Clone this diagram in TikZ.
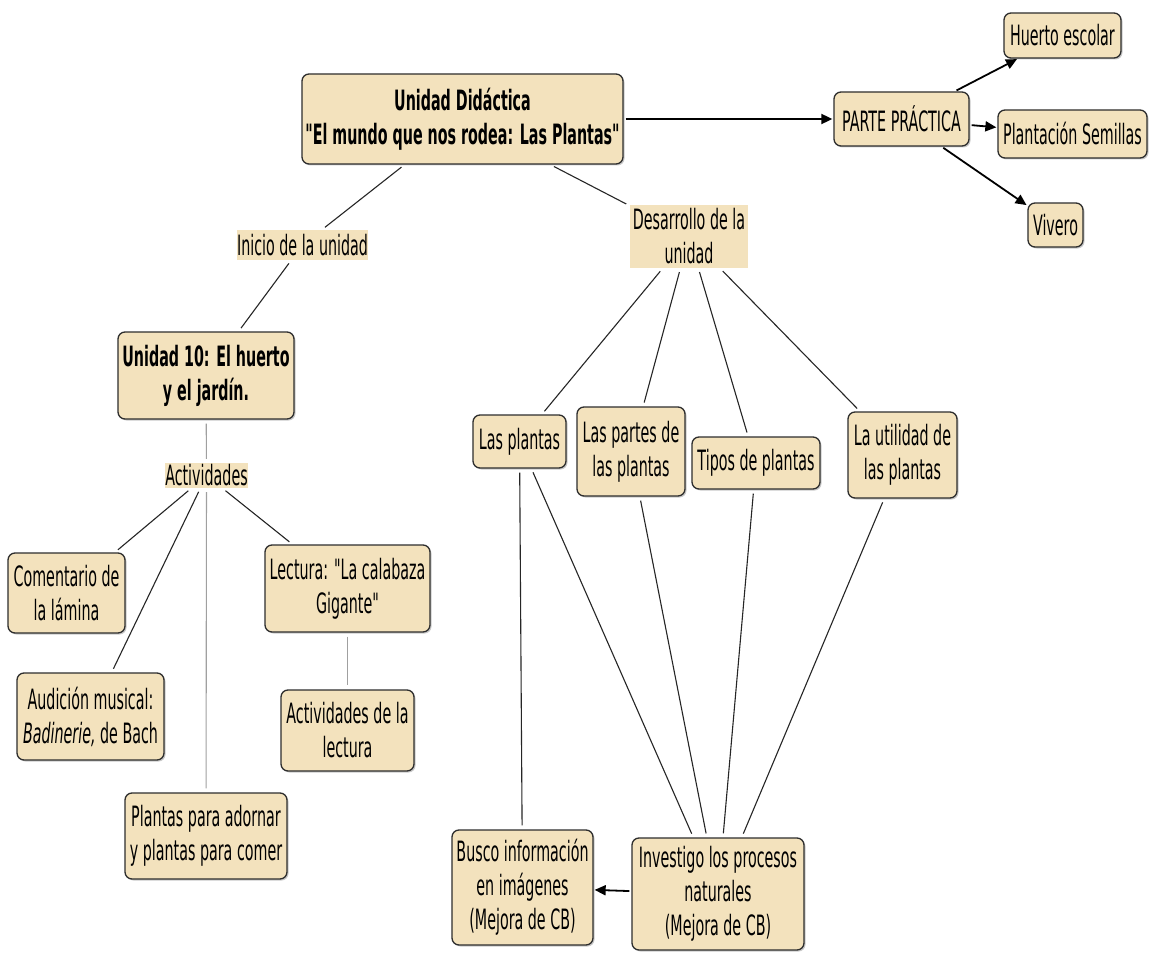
\documentclass[tikz,border=0pt]{standalone}
\usepackage{fontspec}
\setmainfont{DejaVu Sans}[FakeStretch=0.51, Ligatures=TeXOff]
\usetikzlibrary{arrows.meta,shadows}
\definecolor{boxfill}{HTML}{F3E2BD}
\definecolor{boxborder}{HTML}{2E2E2E}
\definecolor{greyline}{HTML}{A0A0A0}
\tikzset{
  every node/.style={font=\fontsize{28}{34}\selectfont},
  box/.style={draw=boxborder, line width=1.3pt, fill=boxfill, rounded corners=7pt,
    align=center, inner sep=0pt,
    drop shadow={shadow xshift=1.5pt, shadow yshift=-1.5pt, opacity=0.35, fill=black!60}},
  lab/.style={fill=boxfill, align=center, inner sep=0pt},
  conn/.style={line width=1.1pt, draw=black!85, shorten >=4pt, shorten <=4pt},
  gconn/.style={line width=1.1pt, draw=greyline, shorten >=4pt, shorten <=4pt},
  arr/.style={line width=1.8pt, draw=black, -{Triangle[length=11pt,width=10pt]}, shorten <=2pt, shorten >=1pt}
}
\begin{document}
\begin{tikzpicture}[x=1pt,y=-1pt]
\useasboundingbox[fill=white] (0,0) rectangle (1149,955);
% main nodes
\node[box, minimum width=321pt, minimum height=90pt] (main) at (462.5,119)
  {\bfseries Unidad Didáctica\\ \bfseries "El mundo que nos rodea: Las Plantas"};
\node[box, minimum width=135pt, minimum height=54pt] (parte) at (901.5,119) {PARTE PRÁCTICA};
\node[box, minimum width=117pt, minimum height=45pt] (huerto) at (1062.5,35.5) {Huerto escolar};
\node[box, minimum width=149pt, minimum height=48pt] (semillas) at (1072.5,134) {Plantación Semillas};
\node[box, minimum width=55pt, minimum height=44pt] (vivero) at (1055.5,225) {Vivero};
\node[lab, minimum width=129pt, minimum height=30pt] (inicio) at (302.5,245) {Inicio de la unidad};
\node[lab, minimum width=118pt, minimum height=63pt] (desarrollo) at (689,236.5) {Desarrollo de la\\unidad};
\node[box, minimum width=176pt, minimum height=87pt] (u10) at (206,375.5)
  {\bfseries Unidad 10: El huerto\\ \bfseries y el jardín.};
\node[lab, minimum width=81pt, minimum height=25pt] (activ) at (206.5,475.5) {Actividades};
\node[box, minimum width=117pt, minimum height=80pt] (coment) at (66.5,593) {Comentario de\\la lámina};
\node[box, minimum width=165pt, minimum height=87pt] (lectura) at (347.5,588.5) {Lectura: "La calabaza\\Gigante"};
\node[box, minimum width=147pt, minimum height=87pt] (audicion) at (90.5,716.5) {Audición musical:\\\textit{Badinerie,} de Bach};
\node[box, minimum width=133pt, minimum height=81pt] (actlect) at (347.5,730.5) {Actividades de la\\lectura};
\node[box, minimum width=162pt, minimum height=86pt] (adornar) at (206,836) {Plantas para adornar\\y plantas para comer};
\node[box, minimum width=93pt, minimum height=53pt] (lasplantas) at (519.5,441.5) {Las plantas};
\node[box, minimum width=108pt, minimum height=89pt] (partes) at (631,451.5) {Las partes de\\las plantas};
\node[box, minimum width=128pt, minimum height=52pt] (tipos) at (756,463) {Tipos de plantas};
\node[box, minimum width=109pt, minimum height=86pt] (utilidad) at (902.5,455) {La utilidad de\\las plantas};
\node[box, minimum width=141pt, minimum height=115pt] (busco) at (522.5,887.5) {Busco información\\en imágenes\\(Mejora de CB)};
\node[box, minimum width=172pt, minimum height=112pt] (investigo) at (718,894) {Investigo los procesos\\naturales\\(Mejora de CB)};
% connectors
\draw[conn] (main) -- (inicio);
\draw[conn] (inicio) -- (u10);
\draw[conn] (main) -- (desarrollo);
\draw[conn] (desarrollo) -- (lasplantas);
\draw[conn] (desarrollo) -- (partes);
\draw[conn] (desarrollo) -- (tipos);
\draw[conn] (desarrollo) -- (utilidad);
\draw[gconn] (u10) -- (activ);
\draw[conn] (activ) -- (coment);
\draw[conn] (activ) -- (audicion);
\draw[gconn] (activ) -- (adornar);
\draw[conn] (activ) -- (lectura);
\draw[gconn] (lectura) -- (actlect);
\draw[conn] (lasplantas) -- (busco);
\draw[conn] (lasplantas) -- (investigo);
\draw[conn] (partes) -- (investigo);
\draw[conn] (tipos) -- (investigo);
\draw[conn] (utilidad) -- (investigo);
\draw[arr] (main) -- (parte);
\draw[arr] (parte) -- (huerto);
\draw[arr] (parte) -- (semillas);
\draw[arr] (parte) -- (vivero);
\draw[arr] (investigo) -- (busco);
\end{tikzpicture}
\end{document}
